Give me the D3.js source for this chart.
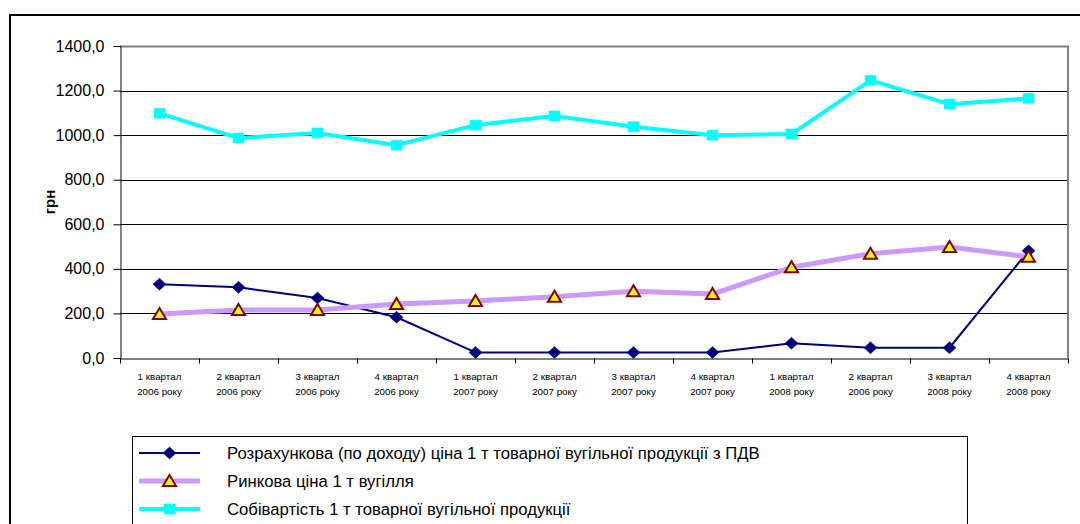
<!DOCTYPE html>
<html>
<head>
<meta charset="utf-8">
<script src="https://cdn.jsdelivr.net/npm/d3@7"></script>
<style>
  html, body { margin: 0; padding: 0; background: #fff; }
  svg { display: block; font-family: Arial, "Liberation Sans", sans-serif; }
</style>
</head>
<body>
<svg id="chart" width="1080" height="524"></svg>
<script>
const categoriesTop = ["1 квартал","2 квартал","3 квартал","4 квартал","1 квартал","2 квартал","3 квартал","4 квартал","1 квартал","2 квартал","3 квартал","4 квартал"];
const categoriesBottom = ["2006 року","2006 року","2006 року","2006 року","2007 року","2007 року","2007 року","2007 року","2008 року","2006 року","2008 року","2008 року"];
const categories = categoriesTop.map((d, i) => i);

const seriesNames = [
  "Розрахункова (по доходу) ціна 1 т товарної вугільної продукції з ПДВ",
  "Ринкова ціна 1 т вугілля",
  "Собівартість 1 т товарної вугільної продукції"
];
const calcPrice = [331, 317, 269, 183, 25, 25, 25, 25, 66, 46, 46, 481];
const marketPrice = [197, 215, 215, 242, 256, 275, 300, 287, 407, 468, 498, 454];
const costPrice = [1098, 987, 1010, 955, 1045, 1086, 1038, 1000, 1005, 1246, 1139, 1165];
const yTicks = [0, 200, 400, 600, 800, 1000, 1200, 1400];
const yLabel = "грн";

const svg = d3.select("#chart");

// outer frame
svg.append("rect").attr("x", 10).attr("y", 15).attr("width", 1200).attr("height", 700)
  .attr("fill", "none").attr("stroke", "#000").attr("stroke-width", 2);

const plot = { left: 120, right: 1068, top: 46, bottom: 358 };
const x = d3.scaleBand().domain(categories).range([plot.left, plot.right]).paddingInner(0).paddingOuter(0);
const y = d3.scaleLinear().domain([0, 1400]).range([plot.bottom, plot.top]);
const cx = i => x(i) + x.bandwidth() / 2;

// gridlines
svg.append("g").selectAll("line").data(yTicks.filter(d => d > 0 && d < 1400)).join("line")
  .attr("x1", plot.left).attr("x2", plot.right)
  .attr("y1", d => Math.round(y(d)) + 0.5).attr("y2", d => Math.round(y(d)) + 0.5)
  .attr("stroke", "#000").attr("stroke-width", 1);

// plot area border (top, right)
svg.append("path")
  .attr("d", `M${plot.left},${plot.top + 0.5}H${plot.right}V${plot.bottom}`)
  .attr("fill", "none").attr("stroke", "#808080").attr("stroke-width", 2);

// y axis
const fmt = d => d3.format(".1f")(d).replace(".", ",");
const yAxis = d3.axisLeft(y).tickValues(yTicks).tickFormat(fmt).tickSize(7).tickPadding(9);
const gy = svg.append("g").attr("transform", `translate(${plot.left + 0.5},0)`).call(yAxis);
gy.attr("font-size", null).attr("font-family", null);
gy.select(".domain").attr("stroke", "#000");
gy.selectAll(".tick line").attr("stroke", "#000");
gy.selectAll(".tick text").style("font-size", "16px").attr("fill", "#000");

// x axis
const xAxis = d3.axisBottom(x).tickSize(0).tickFormat("");
const gx = svg.append("g").attr("transform", `translate(0,${plot.bottom + 0.5})`).call(xAxis);
gx.select(".domain").attr("stroke", "#000");
const bounds = categories.map(i => x(i)).concat([plot.right]);
gx.selectAll(".sep").data(bounds).join("line").attr("class", "sep")
  .attr("x1", d => Math.round(d) + 0.5).attr("x2", d => Math.round(d) + 0.5)
  .attr("y1", 0).attr("y2", 5).attr("stroke", "#000");
const xl = svg.append("g").style("font-size", "9.8px").attr("fill", "#000").attr("text-anchor", "middle");
xl.selectAll(".l1").data(categories).join("text").attr("class", "l1")
  .attr("x", d => cx(d)).attr("y", 380).text(d => categoriesTop[d]);
xl.selectAll(".l2").data(categories).join("text").attr("class", "l2")
  .attr("x", d => cx(d)).attr("y", 395).text(d => categoriesBottom[d]);

// y label
svg.append("text").attr("transform", "translate(55,202) rotate(-90)")
  .attr("text-anchor", "middle").style("font-size", "15px").attr("font-weight", "bold")
  .text(yLabel);

// marker shapes
const diamond = "M0,-6L6.5,0L0,6L-6.5,0Z";
const triangle = "M0,-6L6.5,5L-6.5,5Z";
const square = "M-5.5,-5L5.5,-5L5.5,5L-5.5,5Z";

const series = [
  { name: seriesNames[0], values: calcPrice, color: "#000080", width: 2, shape: diamond, fill: "#000080", stroke: "#000080", sw: 0.5 },
  { name: seriesNames[1], values: marketPrice, color: "#CC99FF", width: 5, shape: triangle, fill: "#FFFF00", stroke: "#800000", sw: 2 },
  { name: seriesNames[2], values: costPrice, color: "#00FFFF", width: 4, shape: square, fill: "#00FFFF", stroke: "#00FFFF", sw: 0.5 }
];

const line = d3.line().x((d, i) => cx(i)).y(d => y(d));
series.forEach(s => {
  const g = svg.append("g");
  g.append("path").attr("d", line(s.values)).attr("fill", "none")
    .attr("stroke", s.color).attr("stroke-width", s.width).attr("stroke-linejoin", "round");
  g.selectAll("path.m").data(s.values).join("path").attr("class", "m")
    .attr("d", s.shape)
    .attr("transform", (d, i) => `translate(${cx(i)},${y(d)})`)
    .attr("fill", s.fill).attr("stroke", s.stroke).attr("stroke-width", s.sw);
});

// legend
const leg = svg.append("g");
leg.append("rect").attr("x", 132.5).attr("y", 436.5).attr("width", 835).attr("height", 120)
  .attr("fill", "#fff").attr("stroke", "#000").attr("stroke-width", 1);
const rowY = [453, 481, 509];
series.forEach((s, i) => {
  const gy2 = rowY[i];
  leg.append("line").attr("x1", 139).attr("x2", 200).attr("y1", gy2).attr("y2", gy2)
    .attr("stroke", s.color).attr("stroke-width", s.width);
  leg.append("path").attr("d", s.shape).attr("transform", `translate(169.5,${gy2})`)
    .attr("fill", s.fill).attr("stroke", s.stroke).attr("stroke-width", s.sw);
  leg.append("text").attr("x", 227).attr("y", gy2 + 5.5).style("font-size", "16.7px").attr("fill", "#000")
    .text(s.name);
});
</script>
</body>
</html>
